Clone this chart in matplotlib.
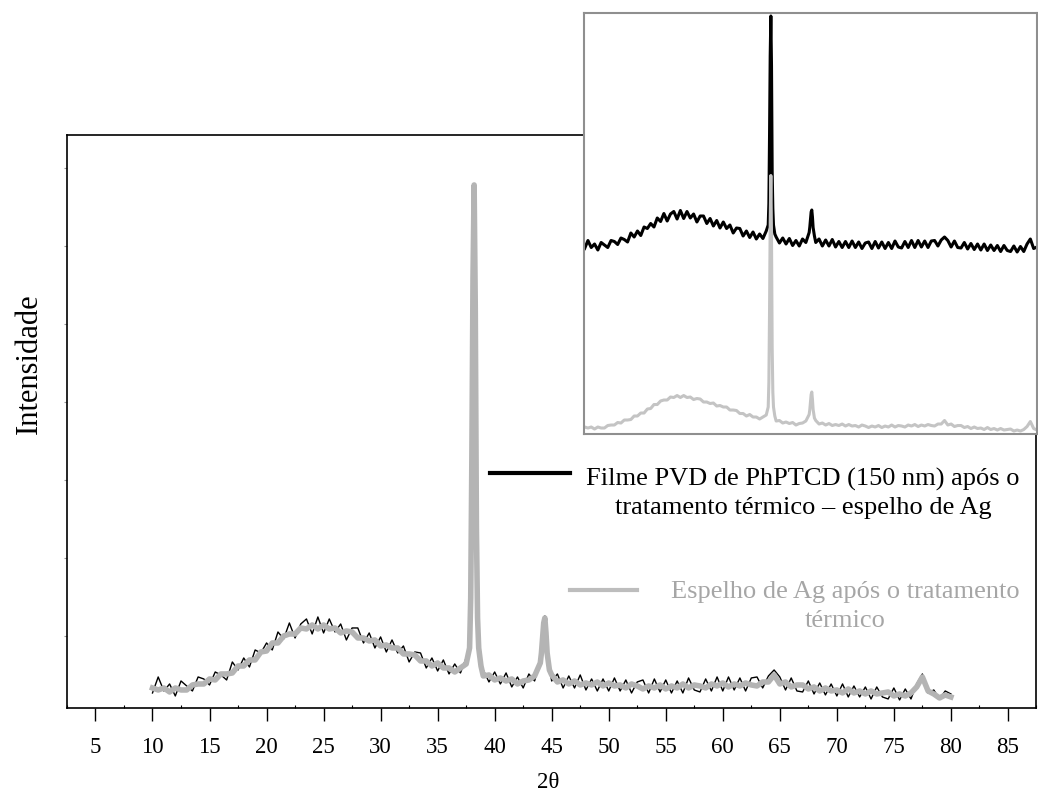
import numpy as np
import matplotlib
matplotlib.use("Agg")
import matplotlib.pyplot as plt
from matplotlib.lines import Line2D

plt.rcParams['font.family'] = ['Liberation Serif', 'DejaVu Serif']

# 2-theta grid, 10..80 every 0.5 degree
theta_base = np.arange(10, 80.01, 0.5)

# Espelho de Ag apos o tratamento termico (gray)
ag_base = [20, 18, 20, 16, 20, 18, 18, 23, 24, 24,
           29, 28, 34, 34, 35, 42, 42, 48, 48, 56,
           57, 65, 65, 72, 74, 74, 80, 79, 83, 79,
           83, 79, 80, 75, 77, 76, 70, 70, 67, 68,
           62, 63, 60, 60, 54, 54, 53, 47, 47, 42,
           45, 40, 40, 36, 40, 44, 250, 90, 32, 33,
           28, 30, 27, 29, 24, 27, 28, 32, 45, 75,
           33, 26, 28, 24, 27, 23, 25, 23, 26, 22,
           25, 22, 23, 20, 24, 22, 19, 22, 20, 23,
           19, 22, 20, 24, 20, 23, 22, 20, 24, 22,
           25, 21, 24, 22, 25, 23, 22, 26, 26, 33,
           24, 26, 21, 23, 23, 19, 21, 17, 20, 17,
           18, 15, 19, 15, 17, 14, 17, 14, 15, 16,
           12, 14, 12, 15, 21, 31, 17, 14, 10, 13,
           11]

# Filme PVD de PhPTCD (150 nm) apos o tratamento termico (black)
film_base = [15, 31, 17, 24, 12, 27, 22, 17, 31, 29,
             23, 36, 33, 28, 46, 38, 50, 41, 58, 55,
             65, 58, 76, 69, 85, 70, 84, 89, 74, 91,
             75, 89, 76, 84, 68, 80, 80, 65, 75, 60,
             71, 56, 68, 55, 62, 46, 56, 55, 40, 50,
             37, 48, 34, 44, 35, 50, 240, 95, 38, 26,
             36, 24, 35, 21, 31, 20, 34, 27, 47, 78,
             27, 34, 20, 32, 20, 33, 18, 29, 17, 29,
             17, 30, 17, 28, 15, 26, 28, 15, 29, 16,
             28, 15, 27, 15, 30, 18, 16, 29, 17, 31,
             17, 31, 18, 30, 17, 30, 31, 20, 32, 38,
             31, 18, 30, 17, 16, 27, 14, 25, 13, 24,
             12, 24, 11, 22, 11, 21, 9, 21, 11, 9,
             20, 8, 19, 9, 24, 34, 15, 18, 9, 17,
             14]

# extra points on the two Ag reflections
theta_peak = [37.8, 37.9, 38.1, 38.2, 38.3, 38.4, 38.6, 38.8,
              44.1, 44.2, 44.3, 44.4, 44.6, 44.8]
ag_peak = [60, 110, 430, 523, 400, 180, 60, 42, 55, 70, 85, 90, 55, 38]
film_peak = [62, 105, 400, 480, 380, 170, 62, 44, 58, 72, 88, 92, 57, 40]

theta = np.concatenate([theta_base, theta_peak])
order = np.argsort(theta)
theta = theta[order]
ag = np.concatenate([ag_base, ag_peak])[order]
film = np.concatenate([film_base, film_peak])[order]

# inset: same scans, stacked
film_shift = 362

fig = plt.figure(figsize=(10.38, 7.92), dpi=100)
ax = fig.add_axes([0.0645, 0.1061, 0.934, 0.7235])

ax.plot(theta, film, color='black', lw=1.0)
ax.plot(theta, ag, color='#b4b4b4', lw=4.0)

ax.set_xlim(2.56, 87.38)
ax.set_ylim(0, 573)
ax.set_xticks(np.arange(5, 90, 5))
ax.set_xticks(np.arange(2.5, 88, 2.5), minor=True)
ax.set_yticks([72, 150, 228, 306, 384, 462, 540])
ax.set_yticklabels([])
ax.tick_params(axis='x', which='major', direction='out', length=9, width=1.0,
               labelsize=16.5, pad=12)
ax.tick_params(axis='x', which='minor', direction='in', length=2, width=0.8)
ax.tick_params(axis='y', which='major', direction='out', length=2, width=0.8,
               color='#999999')
for sp in ax.spines.values():
    sp.set_linewidth(1.2)

ax.set_xlabel('2θ', fontsize=16.5)
ax.xaxis.set_label_coords(0.496, -0.112)
ax.set_ylabel('Intensidade', fontsize=22)
ax.yaxis.set_label_coords(-0.024, 0.6)

# legend drawn by hand
fig.add_artist(Line2D([0.472, 0.549], [0.4028, 0.4028], color='black', lw=3))
fig.text(0.7736, 0.3769, 'Filme PVD de PhPTCD (150 nm) após o\ntratamento térmico – espelho de Ag',
         ha='center', va='center', multialignment='center', fontsize=19,
         linespacing=1.4, color='black')
fig.add_artist(Line2D([0.549, 0.6137], [0.255, 0.255], color='#bdbdbd', lw=3))
fig.text(0.814, 0.2342, 'Espelho de Ag após o tratamento\ntérmico',
         ha='center', va='center', multialignment='center', fontsize=19,
         linespacing=1.4, color='#a6a6a6')

# inset
axi = fig.add_axes([0.5626, 0.452, 0.4364, 0.5316])
axi.plot(theta, film + film_shift, color='black', lw=2.2)
axi.plot(theta, ag, color='#c4c4c4', lw=2.2)
axi.set_xlim(9.9, 78.5)
axi.set_ylim(6, 848)
axi.set_xticks([])
axi.set_yticks([])
for sp in axi.spines.values():
    sp.set_color('#8f8f8f')
    sp.set_linewidth(1.5)

fig.savefig('out.png', dpi=100)
